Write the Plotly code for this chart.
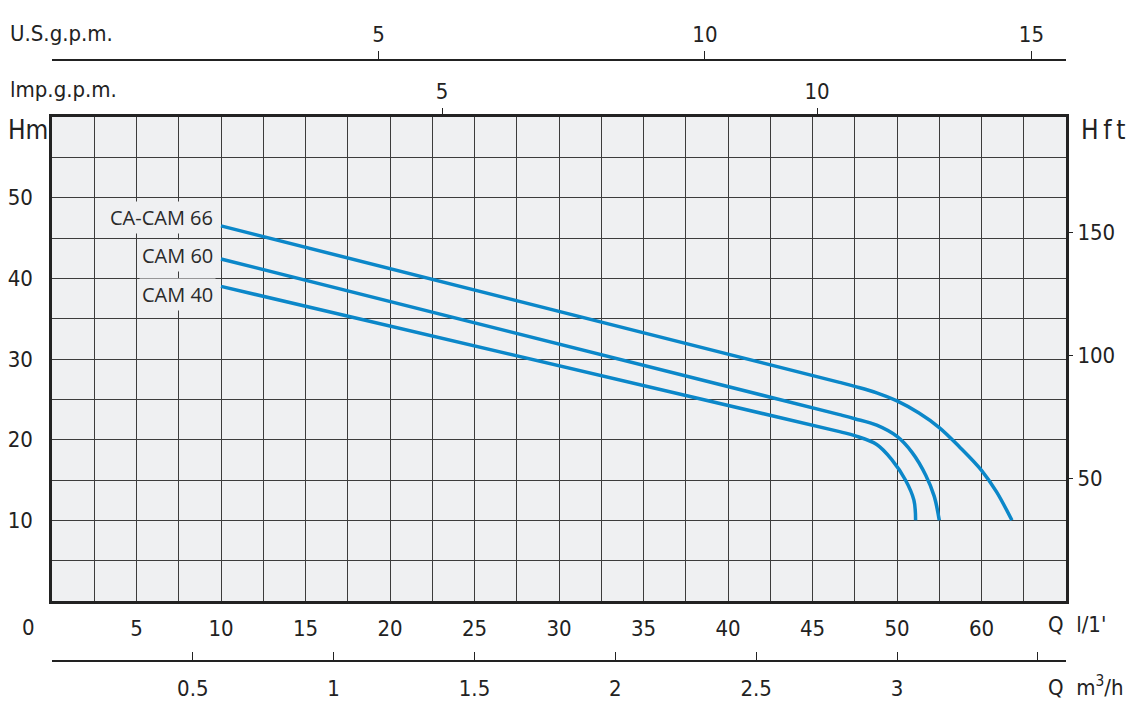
import plotly.graph_objects as go

# pump curves, Q in l/min, H in m
q_cam66 = [10, 46.6, 47.5, 48.8, 50.0, 51.3, 52.5, 53.7, 55.0, 55.9, 56.8]
h_cam66 = [46.5, 27.1, 26.6, 25.8, 24.8, 23.3, 21.5, 19.1, 16.2, 13.5, 10.0]
q_cam60 = [10, 46.6, 47.5, 48.8, 50.0, 50.9, 51.7, 52.2, 52.5]
h_cam60 = [42.4, 23.1, 22.6, 21.8, 20.4, 18.4, 15.6, 13.0, 10.0]
q_cam40 = [10, 46.6, 47.5, 48.8, 49.7, 50.5, 51.0, 51.1]
h_cam40 = [39.0, 21.0, 20.5, 19.4, 17.5, 15.0, 12.5, 10.0]

curve_names = ['CA-CAM 66', 'CAM 60', 'CAM 40']
label_h = [47.6, 42.8, 38.0]

# tick labels of the different scales
q_ticks = [5, 10, 15, 20, 25, 30, 35, 40, 45, 50, 55]
q_text = ['5', '10', '15', '20', '25', '30', '35', '40', '45', '50', '60']
m3h_ticks = [0.5, 1, 1.5, 2, 2.5, 3, 3.5]
m3h_text = ['0.5', '1', '1.5', '2', '2.5', '3', ' ']
usgpm_ticks = [5, 10, 15]
impgpm_ticks = [5, 10]
hm_ticks = [10, 20, 30, 40, 50]
hft_ticks = [50, 100, 150]

BLUE = '#0b87c9'
INK = '#222222'
GRID = '#3c3c3c'
BG = '#eff0f2'
FONT = 'DejaVu Sans Condensed, Roboto, sans-serif'

fig = go.Figure()
for q, h in [(q_cam66, h_cam66), (q_cam60, h_cam60), (q_cam40, h_cam40)]:
    fig.add_trace(go.Scatter(x=q, y=h, mode='lines',
                             line=dict(color=BLUE, width=3.5, shape='spline', smoothing=1.0),
                             hoverinfo='skip', showlegend=False))

# empty traces so the extra axes get drawn
fig.add_trace(go.Scatter(x=[], y=[], xaxis='x2', yaxis='y', showlegend=False))
fig.add_trace(go.Scatter(x=[], y=[], xaxis='x3', yaxis='y', showlegend=False))
fig.add_trace(go.Scatter(x=[], y=[], xaxis='x4', yaxis='y', showlegend=False))
fig.add_trace(go.Scatter(x=[], y=[], xaxis='x', yaxis='y2', showlegend=False))

for name, hy in zip(curve_names, label_h):
    fig.add_annotation(x=9.7, y=hy, text=name, showarrow=False, xanchor='right',
                       font=dict(family='Open Sans, sans-serif', size=20, color='#2a2a2a'),
                       bgcolor=BG, borderpad=2)

tick_font = dict(family=FONT, size=22, color=INK)
# the page body adds an 8px offset, so the figure is 8px smaller on each side
dom_bottom = (653 - 593) / 601
dom_top = (653 - 109) / 601

fig.update_layout(
    width=1132, height=700,
    margin=dict(l=44, r=74, t=52, b=47),
    paper_bgcolor='white', plot_bgcolor=BG,
    font=tick_font,
    xaxis=dict(range=[0, 60], tickvals=q_ticks, ticktext=q_text, ticks='',
               showgrid=True, gridcolor=GRID, gridwidth=1,
               minor=dict(dtick=2.5, tick0=0, showgrid=True, gridcolor=GRID, gridwidth=1),
               showline=True, linecolor=INK, linewidth=2.5, mirror=True, automargin=False,
               zeroline=False, ticklabelstandoff=6, tickfont=tick_font),
    yaxis=dict(range=[0, 60], domain=[dom_bottom, dom_top], tickvals=hm_ticks, ticks='',
               showgrid=True, gridcolor=GRID, gridwidth=1,
               minor=dict(dtick=5, tick0=0, showgrid=True, gridcolor=GRID, gridwidth=1),
               showline=True, linecolor=INK, linewidth=2.5, mirror=True, automargin=False,
               zeroline=False, ticklabelstandoff=12, tickfont=tick_font),
    yaxis2=dict(range=[0, 60 / 0.3048], overlaying='y', side='right', anchor='x',
                tickvals=hft_ticks, ticks='outside', ticklen=6, tickcolor=INK, automargin=False,
                showgrid=False, zeroline=False, tickfont=tick_font, ticklabelstandoff=0),
    xaxis2=dict(range=[0, 3.6], overlaying='x', anchor='free', position=0, side='bottom',
                tickvals=m3h_ticks, ticktext=m3h_text, ticks='inside', ticklen=8,
                tickcolor=INK, showline=True, linecolor=INK, linewidth=1.5, automargin=False,
                showgrid=False, zeroline=False, tickfont=tick_font, ticklabelstandoff=8),
    xaxis3=dict(range=[-0.2, 13.32], overlaying='x', anchor='y', side='top',
                tickvals=impgpm_ticks, ticks='outside', ticklen=8, tickcolor=INK,
                showline=False, showgrid=False, zeroline=False, automargin=False,
                tickfont=tick_font),
    xaxis4=dict(range=[0, 15.53], overlaying='x', anchor='free', position=1, side='top',
                tickvals=usgpm_ticks, ticks='outside', ticklen=8, tickcolor=INK,
                showline=True, linecolor=INK, linewidth=1.5, automargin=False,
                showgrid=False, zeroline=False, tickfont=tick_font),
)

# axis unit labels, given in picture pixels and placed relative to the plotting area
units = [
    (8, 33, 'U.S.g.p.m.', 'left'),
    (8, 90, 'lmp.g.p.m.', 'left'),
    (6, 130, 'Hm', 'left'),
    (1079, 130, 'H\u2009f\u2009t', 'left'),
    (28, 627, '0', 'center'),
    (1046, 624, "Q  l/1'", 'left'),
    (1046, 686, 'Q  m<sup>3</sup>/h', 'left'),
]
for px, py, txt, anchor in units:
    big = txt.startswith('H')
    fig.add_annotation(x=(px - 52) / 1014, y=(661 - py) / 601, xref='paper', yref='paper',
                       text=txt, showarrow=False, xanchor=anchor, yanchor='middle',
                       font=dict(family=FONT, size=26 if big else 22, color=INK))

fig.write_html('out.html')
